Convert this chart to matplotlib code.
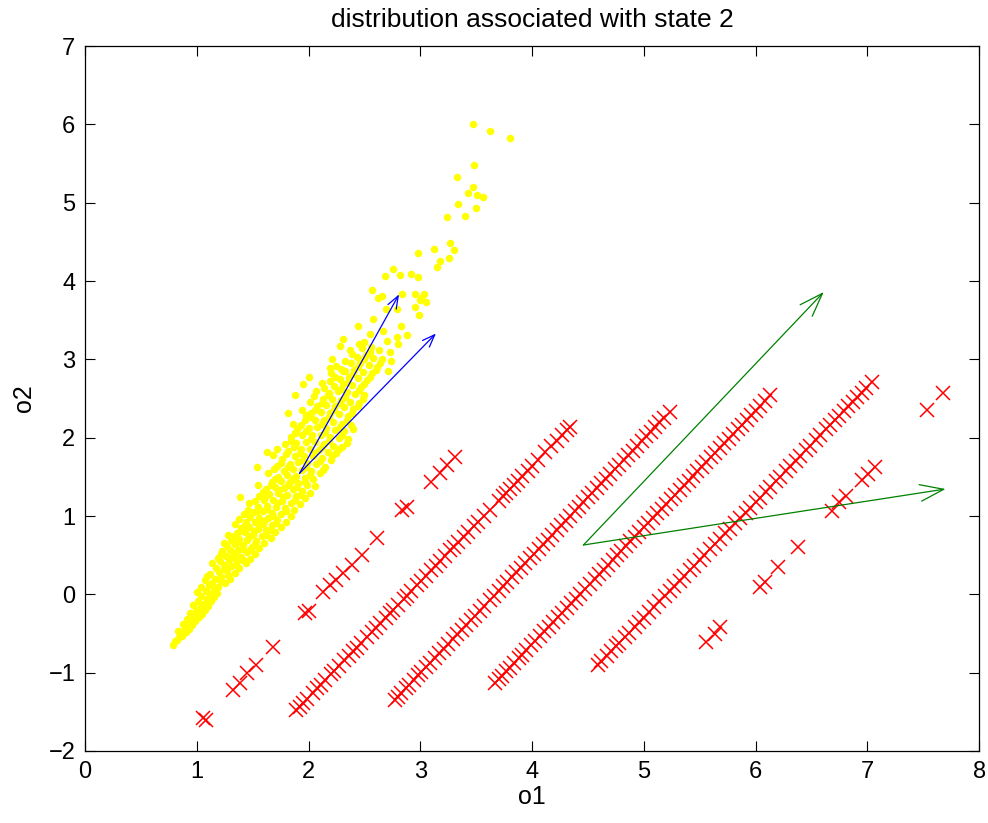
import numpy as np
import matplotlib
matplotlib.use("Agg")
import matplotlib.pyplot as plt

plt.rcParams['font.family'] = ['Liberation Sans', 'DejaVu Sans']

# yellow cloud (state 2 samples) as (o1, o2)
yellow_core = [
    (0.79, -0.65), (0.81, -0.60), (0.84, -0.55), (0.86, -0.50), (0.83, -0.47), (0.89, -0.45),
    (0.92, -0.41), (0.88, -0.38), (0.95, -0.36), (0.91, -0.32), (0.97, -0.30), (1.00, -0.27),
    (0.94, -0.24), (0.99, -0.21), (1.03, -0.18), (0.97, -0.14), (1.06, -0.12), (1.01, -0.08),
    (1.09, -0.06), (1.04, -0.02), (1.12, 0.00), (1.00, 0.03), (1.08, 0.04), (1.15, 0.06),
    (1.04, 0.10), (1.11, 0.12), (1.19, 0.10), (1.25, 0.14), (1.07, 0.18), (1.16, 0.20),
    (1.22, 0.22), (1.30, 0.20), (1.12, 0.26), (1.20, 0.28), (1.27, 0.30), (1.34, 0.27),
    (1.17, 0.34), (1.24, 0.37), (1.31, 0.36), (1.38, 0.33), (1.14, 0.40), (1.21, 0.43),
    (1.29, 0.44), (1.36, 0.42), (1.44, 0.40), (1.26, 0.49), (1.33, 0.50), (1.40, 0.48),
    (1.19, 0.47), (1.48, 0.45),
    (1.23, 0.55), (1.30, 0.57), (1.37, 0.56), (1.45, 0.54), (1.52, 0.52), (1.27, 0.62),
    (1.34, 0.64), (1.41, 0.63), (1.49, 0.61), (1.56, 0.59), (1.31, 0.70), (1.38, 0.71),
    (1.45, 0.69), (1.53, 0.68), (1.60, 0.66), (1.28, 0.76), (1.36, 0.78), (1.43, 0.79),
    (1.50, 0.76), (1.58, 0.74), (1.66, 0.72), (1.40, 0.85), (1.47, 0.86), (1.55, 0.84),
    (1.62, 0.82), (1.70, 0.80), (1.34, 0.90), (1.44, 0.93), (1.52, 0.92), (1.59, 0.90),
    (1.67, 0.88), (1.75, 0.86), (1.48, 0.99), (1.56, 0.98), (1.64, 0.97), (1.72, 0.95),
    (1.80, 0.93),
    (1.42, 1.03), (1.51, 1.05), (1.59, 1.06), (1.67, 1.04), (1.75, 1.02), (1.84, 1.00),
    (1.55, 1.12), (1.63, 1.13), (1.71, 1.11), (1.79, 1.10), (1.87, 1.08), (1.47, 1.16),
    (1.60, 1.20), (1.68, 1.21), (1.76, 1.19), (1.84, 1.17), (1.92, 1.15), (1.56, 1.26),
    (1.65, 1.28), (1.73, 1.29), (1.81, 1.27), (1.89, 1.25), (1.97, 1.23), (1.62, 1.35),
    (1.70, 1.37), (1.78, 1.36), (1.86, 1.34), (1.94, 1.32), (2.01, 1.30), (1.55, 1.40),
    (1.67, 1.43), (1.75, 1.45), (1.83, 1.44), (1.91, 1.42), (1.99, 1.40), (2.06, 1.38),
    (1.73, 1.50), (1.81, 1.52), (1.89, 1.51), (1.97, 1.49), (2.04, 1.47),
    (1.64, 1.55), (1.78, 1.58), (1.86, 1.60), (1.94, 1.59), (2.02, 1.57), (2.10, 1.55),
    (1.72, 1.64), (1.83, 1.67), (1.91, 1.69), (1.99, 1.68), (2.07, 1.66), (2.15, 1.63),
    (1.76, 1.73), (1.88, 1.76), (1.96, 1.77), (2.04, 1.76), (2.12, 1.74), (2.20, 1.72),
    (1.68, 1.78), (1.82, 1.83), (1.93, 1.85), (2.01, 1.86), (2.09, 1.84), (2.17, 1.82),
    (2.25, 1.80), (1.79, 1.92), (1.89, 1.93), (1.98, 1.95), (2.06, 1.94), (2.14, 1.92),
    (2.22, 1.90), (2.30, 1.88),
    (1.84, 2.01), (1.94, 2.03), (2.03, 2.04), (2.11, 2.03), (2.19, 2.01), (2.27, 1.99),
    (2.35, 1.98), (1.90, 2.11), (2.00, 2.13), (2.08, 2.14), (2.16, 2.12), (2.24, 2.10),
    (2.32, 2.08), (1.86, 2.18), (1.97, 2.22), (2.06, 2.23), (2.14, 2.22), (2.22, 2.20),
    (2.30, 2.18), (2.38, 2.16), (2.02, 2.31), (2.11, 2.33), (2.19, 2.32), (2.27, 2.30),
    (2.35, 2.28), (1.94, 2.35), (2.08, 2.40), (2.16, 2.42), (2.24, 2.41), (2.32, 2.39),
    (2.40, 2.37), (2.01, 2.46), (2.13, 2.49), (2.21, 2.50), (2.29, 2.48), (2.37, 2.46),
    (2.45, 2.44),
    (2.18, 2.57), (2.26, 2.59), (2.34, 2.58), (2.42, 2.56), (2.50, 2.54), (2.07, 2.60),
    (2.23, 2.66), (2.31, 2.68), (2.39, 2.67), (2.47, 2.65), (2.12, 2.70), (2.28, 2.75),
    (2.36, 2.77), (2.44, 2.76), (2.52, 2.74), (2.20, 2.82), (2.33, 2.85), (2.41, 2.86),
    (2.49, 2.84), (2.57, 2.82), (2.25, 2.92), (2.38, 2.95), (2.46, 2.96), (2.54, 2.93),
    (2.61, 2.90), (2.43, 3.03), (2.51, 3.05), (2.58, 3.02), (2.66, 3.00), (2.48, 3.14),
    (2.56, 3.16), (2.63, 3.12),
]

yellow_fill = [
    (0.82, -0.58), (0.87, -0.53), (0.90, -0.48), (0.93, -0.44), (0.96, -0.39), (0.98, -0.34),
    (1.02, -0.29), (1.05, -0.25), (1.07, -0.20), (1.10, -0.15), (1.13, -0.09), (1.15, -0.03),
    (1.18, 0.02), (1.14, 0.15), (1.22, 0.17), (1.28, 0.25), (1.09, 0.23), (1.24, 0.32),
    (1.35, 0.38), (1.41, 0.44), (1.31, 0.47), (1.22, 0.51),
    (1.34, 0.53), (1.41, 0.58), (1.48, 0.57), (1.24, 0.66), (1.37, 0.67), (1.52, 0.64),
    (1.33, 0.74), (1.47, 0.74), (1.62, 0.76), (1.39, 0.81), (1.51, 0.81), (1.66, 0.82),
    (1.43, 0.88), (1.56, 0.88), (1.71, 0.91), (1.38, 0.96), (1.60, 0.94), (1.68, 1.00),
    (1.46, 1.08), (1.55, 1.07), (1.63, 1.09), (1.80, 1.06), (1.52, 1.19), (1.72, 1.16),
    (1.88, 1.20), (1.61, 1.24), (1.77, 1.24), (1.93, 1.27), (1.59, 1.31), (1.74, 1.33),
    (1.90, 1.37), (1.66, 1.39), (1.82, 1.40), (1.97, 1.44), (1.70, 1.47), (1.86, 1.47),
    (2.01, 1.52),
    (1.69, 1.60), (1.82, 1.62), (1.98, 1.63), (2.13, 1.59), (1.75, 1.68), (1.95, 1.72),
    (2.10, 1.70), (1.80, 1.79), (1.92, 1.80), (2.06, 1.81), (2.21, 1.77), (1.72, 1.86),
    (1.87, 1.88), (2.12, 1.88), (2.27, 1.85), (1.84, 1.96), (2.02, 1.98), (2.18, 1.96),
    (2.34, 1.93),
    (1.88, 2.06), (1.98, 2.08), (2.15, 2.07), (2.30, 2.04), (1.93, 2.16), (2.12, 2.18),
    (2.28, 2.14), (2.40, 2.11), (2.02, 2.26), (2.18, 2.27), (2.34, 2.23), (1.98, 2.29),
    (2.06, 2.35), (2.23, 2.36), (2.39, 2.32), (2.12, 2.44), (2.28, 2.44), (2.44, 2.40),
    (2.05, 2.53), (2.17, 2.54), (2.33, 2.52), (2.49, 2.49),
    (2.14, 2.63), (2.29, 2.62), (2.45, 2.61), (2.19, 2.72), (2.35, 2.71), (2.50, 2.69),
    (2.24, 2.78), (2.40, 2.81), (2.55, 2.78), (2.29, 2.88), (2.44, 2.90), (2.60, 2.86),
    (2.33, 2.98), (2.50, 3.00), (2.64, 2.96), (2.39, 3.07), (2.55, 3.10), (2.45, 3.20),
    (1.82, 2.31), (1.63, 1.82), (1.54, 1.63), (1.39, 1.24), (1.88, 2.55), (1.95, 2.68),
    (2.00, 2.78),
]

yellow_tail = [
    (3.47, 6.01), (3.62, 5.91), (3.80, 5.83), (3.48, 5.48), (3.33, 5.33), (3.47, 5.20),
    (3.43, 5.13), (3.51, 5.10), (3.56, 5.07), (3.34, 4.99), (3.50, 4.93), (3.40, 4.83),
    (3.24, 4.82), (3.12, 4.41), (2.98, 4.36), (3.27, 4.48), (3.30, 4.40), (3.18, 4.26),
    (3.26, 4.30), (3.15, 4.18), (2.76, 4.15), (2.68, 4.07), (2.82, 4.08), (2.92, 4.09),
    (2.98, 4.05), (2.57, 3.89), (2.62, 3.79), (2.66, 3.81), (2.84, 3.84), (2.95, 3.83),
    (3.01, 3.79), (3.03, 3.84), (3.00, 3.76), (3.05, 3.73), (2.95, 3.67), (2.69, 3.64),
    (2.79, 3.64), (2.99, 3.57), (2.58, 3.52), (2.44, 3.43), (2.83, 3.42), (2.55, 3.32),
    (2.67, 3.36), (2.88, 3.31), (2.79, 3.28), (2.50, 3.22), (2.80, 3.19), (2.31, 3.26),
    (2.28, 3.17), (2.37, 3.12), (2.70, 3.23), (2.73, 3.10), (2.74, 2.98), (2.21, 3.01),
    (2.71, 2.85), (2.19, 2.89), (2.31, 2.85),
]

# red crosses: sparse diagonal runs
red_sparse_left = [
    (1.06, -1.58), (1.08, -1.60), (1.32, -1.22), (1.39, -1.13), (1.45, -1.00), (1.53, -0.90),
    (1.68, -0.67), (1.97, -0.24), (2.00, -0.21), (2.13, 0.03), (2.19, 0.12), (2.25, 0.18),
    (2.31, 0.27), (2.39, 0.37), (2.48, 0.50), (2.61, 0.72), (2.84, 1.08), (2.88, 1.11),
    (3.10, 1.43), (3.18, 1.55), (3.24, 1.65), (3.31, 1.75),
]

red_sparse_right = [
    (5.56, -0.61), (5.64, -0.50), (5.68, -0.42), (6.04, 0.09), (6.08, 0.16), (6.20, 0.35),
    (6.38, 0.60), (6.68, 1.07), (6.75, 1.18), (6.81, 1.25), (6.95, 1.46), (7.01, 1.54),
    (7.07, 1.63), (7.53, 2.35), (7.68, 2.57),
]

# red crosses: four dense diagonal runs
red_run1 = [
    (1.89, -1.480), (1.92, -1.436), (1.95, -1.391), (1.99, -1.332), (2.04, -1.258),
    (2.08, -1.199), (2.11, -1.155), (2.15, -1.096), (2.20, -1.022), (2.23, -0.977),
    (2.27, -0.918), (2.32, -0.844), (2.36, -0.785), (2.40, -0.726), (2.43, -0.682),
    (2.47, -0.623), (2.52, -0.549), (2.57, -0.475), (2.60, -0.431), (2.64, -0.372),
    (2.69, -0.298), (2.73, -0.238), (2.76, -0.194), (2.80, -0.135), (2.85, -0.061),
    (2.88, -0.017), (2.92, 0.042), (2.97, 0.116), (3.01, 0.175), (3.05, 0.234),
    (3.10, 0.308), (3.14, 0.368), (3.18, 0.427), (3.22, 0.486), (3.27, 0.560),
    (3.30, 0.604), (3.34, 0.663), (3.39, 0.737), (3.43, 0.796), (3.48, 0.870),
    (3.52, 0.929), (3.57, 1.003), (3.62, 1.077), (3.70, 1.195), (3.74, 1.254),
    (3.77, 1.299), (3.80, 1.343), (3.84, 1.402), (3.87, 1.446), (3.91, 1.506),
    (3.96, 1.579), (4.00, 1.639), (4.05, 1.712), (4.12, 1.816), (4.17, 1.889),
    (4.22, 1.963), (4.27, 2.037), (4.31, 2.096), (4.34, 2.140),
]

red_run2 = [
    (2.77, -1.350), (2.80, -1.305), (2.83, -1.260), (2.87, -1.200), (2.90, -1.156),
    (2.94, -1.096), (2.98, -1.036), (3.01, -0.991), (3.05, -0.931), (3.09, -0.871),
    (3.13, -0.811), (3.17, -0.752), (3.21, -0.692), (3.25, -0.632), (3.29, -0.572),
    (3.33, -0.512), (3.37, -0.452), (3.41, -0.393), (3.45, -0.333), (3.49, -0.273),
    (3.53, -0.213), (3.57, -0.153), (3.62, -0.078), (3.66, -0.019), (3.70, 0.041),
    (3.74, 0.101), (3.78, 0.161), (3.82, 0.221), (3.86, 0.281), (3.90, 0.340),
    (3.94, 0.400), (3.98, 0.460), (4.02, 0.520), (4.06, 0.580), (4.10, 0.640),
    (4.14, 0.700), (4.18, 0.759), (4.22, 0.819), (4.26, 0.879), (4.30, 0.939),
    (4.34, 0.999), (4.38, 1.059), (4.42, 1.118), (4.46, 1.178), (4.50, 1.238),
    (4.54, 1.298), (4.58, 1.358), (4.62, 1.418), (4.66, 1.477), (4.70, 1.537),
    (4.74, 1.597), (4.78, 1.657), (4.82, 1.717), (4.86, 1.777), (4.90, 1.836),
    (4.94, 1.896), (4.98, 1.956), (5.02, 2.016), (5.06, 2.076), (5.10, 2.136),
    (5.14, 2.196), (5.18, 2.255), (5.23, 2.330),
]

red_run3 = [
    (3.67, -1.130), (3.70, -1.085), (3.73, -1.040), (3.77, -0.981), (3.80, -0.936),
    (3.84, -0.876), (3.88, -0.817), (3.91, -0.772), (3.95, -0.712), (3.99, -0.653),
    (4.03, -0.593), (4.07, -0.533), (4.11, -0.474), (4.15, -0.414), (4.19, -0.354),
    (4.23, -0.294), (4.27, -0.235), (4.31, -0.175), (4.35, -0.115), (4.39, -0.056),
    (4.43, 0.004), (4.47, 0.064), (4.52, 0.138), (4.56, 0.198), (4.60, 0.258),
    (4.64, 0.317), (4.68, 0.377), (4.72, 0.437), (4.76, 0.496), (4.80, 0.556),
    (4.84, 0.616), (4.88, 0.675), (4.92, 0.735), (4.96, 0.795), (5.00, 0.854),
    (5.04, 0.914), (5.08, 0.974), (5.12, 1.033), (5.16, 1.093), (5.20, 1.153),
    (5.24, 1.212), (5.28, 1.272), (5.32, 1.332), (5.36, 1.391), (5.40, 1.451),
    (5.44, 1.511), (5.48, 1.571), (5.52, 1.630), (5.56, 1.690), (5.60, 1.750),
    (5.64, 1.809), (5.68, 1.869), (5.72, 1.929), (5.76, 1.988), (5.80, 2.048),
    (5.84, 2.108), (5.88, 2.167), (5.92, 2.227), (5.96, 2.287), (6.00, 2.346),
    (6.04, 2.406), (6.08, 2.466), (6.13, 2.540),
]

red_run4 = [
    (4.59, -0.900), (4.62, -0.856), (4.67, -0.782), (4.71, -0.723), (4.75, -0.664),
    (4.78, -0.620), (4.83, -0.546), (4.87, -0.488), (4.92, -0.414), (4.96, -0.355),
    (5.00, -0.296), (5.05, -0.222), (5.09, -0.164), (5.14, -0.090), (5.19, -0.016),
    (5.23, 0.043), (5.27, 0.102), (5.32, 0.175), (5.36, 0.234), (5.41, 0.308),
    (5.45, 0.367), (5.50, 0.440), (5.54, 0.499), (5.59, 0.573), (5.64, 0.647),
    (5.68, 0.706), (5.73, 0.779), (5.77, 0.838), (5.82, 0.912), (5.86, 0.971),
    (5.91, 1.044), (5.95, 1.103), (6.00, 1.177), (6.04, 1.236), (6.09, 1.310),
    (6.13, 1.368), (6.18, 1.442), (6.22, 1.501), (6.27, 1.575), (6.31, 1.634),
    (6.36, 1.707), (6.40, 1.766), (6.45, 1.840), (6.49, 1.899), (6.54, 1.972),
    (6.58, 2.031), (6.63, 2.105), (6.67, 2.164), (6.71, 2.223), (6.75, 2.282),
    (6.79, 2.341), (6.83, 2.400), (6.87, 2.458), (6.91, 2.517), (6.95, 2.576),
    (6.99, 2.635), (7.04, 2.709),
]

# arrows: (start, end)
blue_arrows = [((1.92, 1.545), (2.81, 3.83)), ((1.92, 1.545), (3.14, 3.33))]
green_arrows = [((4.46, 0.63), (7.70, 1.345)), ((4.46, 0.63), (6.61, 3.86))]

fig = plt.figure(figsize=(9.88, 8.23), dpi=100)
ax = fig.add_axes([0.086, 0.0875, 0.905, 0.8565])

yel = np.array(yellow_core + yellow_fill + yellow_tail)
ax.plot(yel[:, 0], yel[:, 1], 'o', color='#ffff00', ms=5.4, mew=0, zorder=2)

for run in [red_sparse_left, red_sparse_right, red_run1, red_run2, red_run3, red_run4]:
    pts = np.array(run)
    ax.plot(pts[:, 0], pts[:, 1], 'x', color='#ff0000', ms=10, mew=1.1, zorder=3)

for (x0, y0), (x1, y1) in blue_arrows:
    ax.annotate('', xy=(x1, y1), xytext=(x0, y0),
                arrowprops=dict(arrowstyle='->,head_length=0.45,head_width=0.17',
                                color='#0000ff', lw=0.9, mutation_scale=20,
                                shrinkA=0, shrinkB=0), zorder=4)
for (x0, y0), (x1, y1) in green_arrows:
    ax.annotate('', xy=(x1, y1), xytext=(x0, y0),
                arrowprops=dict(arrowstyle='->,head_length=0.85,head_width=0.3',
                                color='#008000', lw=0.9, mutation_scale=20,
                                shrinkA=0, shrinkB=0), zorder=4)

ax.set_xlim(0, 8)
ax.set_ylim(-2, 7)
ax.set_xticks(range(0, 9))
ax.set_yticks(range(-2, 8))
ax.tick_params(direction='in', length=7, width=0.8, top=True, right=True,
               labelsize=17, pad=7, colors='black')
for s in ax.spines.values():
    s.set_linewidth(0.9)
ax.set_xlabel('o1', fontsize=18, labelpad=2)
ax.set_ylabel('o2', fontsize=18, labelpad=9)
ax.set_title('distribution associated with state 2', fontsize=19, pad=14)

fig.savefig('out.png', dpi=100)
